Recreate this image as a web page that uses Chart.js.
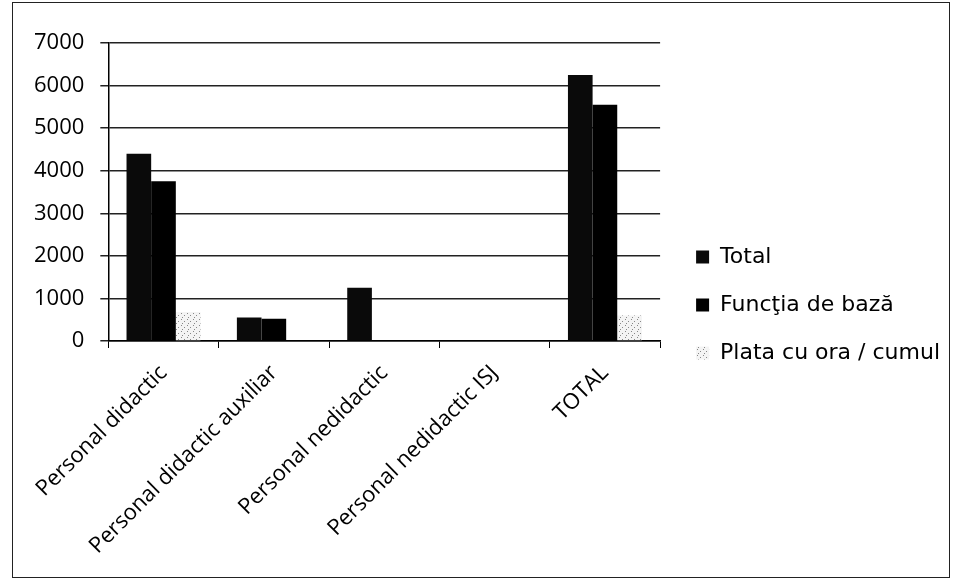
<!DOCTYPE html>
<html>
<head>
<meta charset="utf-8">
<script src="https://cdn.jsdelivr.net/npm/chart.js@4"></script>
<style>
  body { margin: 0; background: #fff; }
  #wrap { position: relative; width: 954px; height: 588px; }
  #frame {
    position: absolute; left: 12px; top: 2px; width: 936px; height: 574px;
    border: 1.5px solid #222; pointer-events: none;
  }
</style>
</head>
<body>
<div id="wrap">
  <canvas id="chart" width="954" height="588"></canvas>
  <div id="frame"></div>
</div>
<script>
const categories = [
  "Personal didactic",
  "Personal didactic auxiliar",
  "Personal nedidactic",
  "Personal nedidactic ISJ",
  "TOTAL",
];
const totalValues = [4400, 550, 1250, 0, 6250];
const functiaValues = [3750, 520, 0, 0, 5550];
const plataValues = [680, 0, 0, 0, 600];
const yTicks = [0, 1000, 2000, 3000, 4000, 5000, 6000, 7000];

// speckled fill like the scanned light-grey series
function speckle() {
  const c = document.createElement("canvas");
  c.width = 6;
  c.height = 6;
  const g = c.getContext("2d");
  g.fillStyle = "#f4f4f4";
  g.fillRect(0, 0, 6, 6);
  g.fillStyle = "#888";
  g.fillRect(1, 1, 1, 1);
  g.fillRect(4, 3, 1, 1);
  g.fillRect(2, 5, 1, 1);
  return g.createPattern(c, "repeat");
}

// nudge the legend a bit further from the plot, keep its clip wide
const legendShift = {
  id: "legendShift",
  afterLayout(chart) {
    const lg = chart.legend;
    if (!lg) return;
    lg.left += 10;
    lg.right = chart.width;
    lg.width = lg.right - lg.left;
  },
};

const ctx = document.getElementById("chart").getContext("2d");

new Chart(ctx, {
  type: "bar",
  data: {
    labels: categories,
    datasets: [
      { label: "Total", data: totalValues, backgroundColor: "#0a0a0a" },
      { label: "Funcţia de bază", data: functiaValues, backgroundColor: "#000" },
      { label: "Plata cu ora / cumul", data: plataValues, backgroundColor: speckle() },
    ],
  },
  plugins: [legendShift],
  options: {
    responsive: false,
    animation: false,
    layout: { padding: { top: 43, left: 18, right: 14, bottom: 21 } },
    datasets: {
      bar: { categoryPercentage: 0.67, barPercentage: 1.0 },
    },
    plugins: {
      legend: {
        position: "right",
        maxWidth: 320,
        labels: {
          color: "#000",
          font: { family: "DejaVu Sans", size: 22 },
          boxWidth: 13,
          boxHeight: 13,
          padding: 26,
        },
      },
      tooltip: { enabled: false },
    },
    scales: {
      x: {
        afterFit: (scale) => {
          scale.height = 226;
        },
        grid: {
          drawOnChartArea: false,
          color: "#000",
          tickLength: 7,
          offset: true,
        },
        border: { color: "#000", width: 1.5 },
        ticks: {
          color: "#000",
          font: { family: "Open Sans", size: 22 },
          minRotation: 45,
          maxRotation: 45,
          padding: 12,
        },
      },
      y: {
        min: 0,
        max: 7000,
        afterBuildTicks: (scale) => {
          scale.ticks = yTicks.map((v) => ({ value: v }));
        },
        grid: { color: "#222", lineWidth: 1.5, tickLength: 8 },
        border: { color: "#000", width: 1.5 },
        ticks: {
          color: "#000",
          font: { family: "Open Sans", size: 22 },
          padding: 16,
          callback: (v) => String(v),
        },
      },
    },
  },
});
</script>
</body>
</html>
